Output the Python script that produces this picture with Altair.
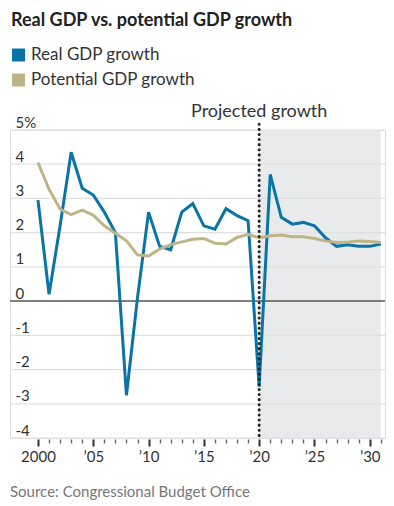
import altair as alt
import pandas as pd

years = list(range(2000, 2032))
real_gdp = [2.95, 0.2, 2.2, 4.35, 3.3, 3.1, 2.6, 2.0, -2.75, 0.1, 2.6, 1.6, 1.5, 2.6, 2.85, 2.2,
            2.1, 2.7, 2.5, 2.35, -2.5, 3.7, 2.45, 2.25, 2.3, 2.2, 1.85, 1.6, 1.65, 1.6, 1.6, 1.67]
potential_gdp = [4.05, 3.27, 2.69, 2.53, 2.66, 2.51, 2.2, 1.98, 1.76, 1.35, 1.32, 1.52, 1.65, 1.73,
                 1.81, 1.83, 1.69, 1.67, 1.86, 1.95, 1.85, 1.91, 1.93, 1.88, 1.88, 1.83, 1.76,
                 1.71, 1.73, 1.76, 1.74, 1.71]
series_names = ["Real GDP growth", "Potential GDP growth"]
series_colors = ["#0a74a6", "#bdb587"]
y_ticks = [-4, -3, -2, -1, 0, 1, 2, 3, 4, 5]
projection_start = 2020
projection_end = 2031
title_text = "Real GDP vs. potential GDP growth"
annotation_text = "Projected growth"
source_text = "Source: Congressional Budget Office"

FONT = "Lato"

df = pd.DataFrame({
    "year": years + years,
    "value": real_gdp + potential_gdp,
    "series": [series_names[0]] * len(years) + [series_names[1]] * len(years),
})
shade_df = pd.DataFrame({"year": [projection_start], "end": [projection_end],
                         "value": [max(y_ticks)], "bottom": [min(y_ticks)]})
grid_df = pd.DataFrame({"value": [v for v in y_ticks if v != 0]})
zero_df = pd.DataFrame({"value": [0]})
proj_df = pd.DataFrame({"year": [projection_start], "value": [5.17], "bottom": [min(y_ticks) - 0.02],
                        "label": [annotation_text]})
text_df = pd.DataFrame({"title": [title_text], "source": [source_text]})

x_scale = alt.Scale(domain=[1997.47, 2031.38], nice=False, zero=False)
y_scale = alt.Scale(domain=[min(y_ticks), max(y_ticks)], nice=False, zero=False)

x_label_expr = ("datum.value % 5 === 0 ? (datum.value === 2000 ? '2000' : "
                "'\u2019' + (datum.value % 100 < 10 ? '0' : '') + (datum.value % 100)) : ''")
y_label_expr = ("datum.value === 5 ? '5%' : (datum.value < 0 ? '-' + abs(datum.value) : '' + datum.value)")

x_axis = alt.Axis(
    values=years, title=None, domain=False, grid=False, offset=1,
    tickSize={"condition": {"test": "datum.value % 5 === 0", "value": 7}, "value": 4},
    tickWidth={"condition": {"test": "datum.value % 5 === 0", "value": 2}, "value": 1.4},
    tickColor={"condition": {"test": "datum.value % 5 === 0", "value": "#333333"}, "value": "#666666"},
    labelExpr=x_label_expr, labelFont=FONT, labelFontSize=15, labelColor="#333333",
    labelPadding=3, labelOverlap=False, labelFlush=False,
)
y_axis = alt.Axis(
    values=y_ticks, title=None, domain=False, grid=False, ticks=False, tickSize=0,
    labelAlign="left", labelBaseline="alphabetic", labelPadding=-5, labelOffset=-3,
    labelExpr=y_label_expr, labelFont=FONT, labelFontSize=15, labelColor="#333333",
)

X = lambda f: alt.X(f, scale=x_scale, axis=x_axis)
Y = lambda f: alt.Y(f, scale=y_scale, axis=y_axis)

shade = alt.Chart(shade_df).mark_rect(color="#e9eaec").encode(
    x=X("year:Q"), x2="end:Q", y=Y("value:Q"), y2="bottom:Q",
)

grid = alt.Chart(grid_df).mark_rule(color="#e0e0e0", strokeWidth=1.2).encode(y=Y("value:Q"))

zero = alt.Chart(zero_df).mark_rule(color="#555555", strokeWidth=1.5).encode(y=Y("value:Q"))

lines = alt.Chart(df).mark_line(strokeWidth=3, strokeJoin="miter").encode(
    x=X("year:Q"),
    y=Y("value:Q"),
    color=alt.Color("series:N", scale=alt.Scale(domain=series_names, range=series_colors),
                    legend=None),
    order="year:Q",
)

proj_rule = alt.Chart(proj_df).mark_rule(
    color="#222222", strokeWidth=3, strokeDash=[0.1, 5], strokeCap="round"
).encode(x=X("year:Q"), y=Y("value:Q"), y2="bottom:Q")

proj_text = alt.Chart(proj_df).mark_text(
    font=FONT, fontSize=18, color="#333333", align="center", baseline="alphabetic"
).encode(x=X("year:Q"), y=alt.value(-13), text="label:N")

title = alt.Chart(text_df).mark_text(
    font=FONT, fontSize=18, fontWeight="bold", color="#222222", align="left", baseline="alphabetic"
).encode(x=alt.value(1), y=alt.value(-104), text="title:N")

source = alt.Chart(text_df).mark_text(
    font=FONT, fontSize=15, color="#777777", align="left", baseline="alphabetic"
).encode(x=alt.value(0), y=alt.value(367), text="source:N")

# legend: one swatch + label per series, rows 25px apart
legend_layers = []
for i, (name, col) in enumerate(zip(series_names, series_colors)):
    row_y = -75 + 25 * i
    legend_layers.append(
        alt.Chart(text_df).mark_square(size=169, color=col, opacity=1).encode(
            x=alt.value(8.5), y=alt.value(row_y))
    )
    legend_layers.append(
        alt.Chart(text_df).mark_text(font=FONT, fontSize=17, color="#333333", align="left",
                                     baseline="middle").encode(
            x=alt.value(21), y=alt.value(row_y), text=alt.value(name))
    )

chart = alt.layer(shade, grid, zero, lines, proj_rule, proj_text, title, source,
                  *legend_layers).properties(
    width=375, height=308,
    autosize=alt.AutoSizeParams(type="none"),
    padding={"left": 2, "top": 122, "right": 1, "bottom": 66},
).configure_view(stroke=None).configure(font=FONT)

chart.save("out.html", embed_options={"renderer": "svg", "actions": False})
